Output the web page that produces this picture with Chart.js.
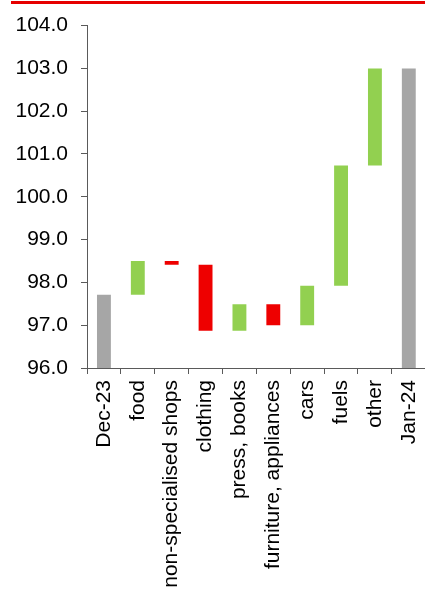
<!DOCTYPE html>
<html>
<head>
<meta charset="utf-8">
<script src="https://cdn.jsdelivr.net/npm/chart.js@4"></script>
<style>
    html, body { margin: 0; padding: 0; background: #fff; overflow: hidden; }
    #wrap { position: relative; width: 425px; height: 590px; overflow: hidden; }
    #topRule { position: absolute; left: 11px; right: 0; top: 1px; height: 3px; background: #e60000; }
    #chart { position: absolute; left: 0; top: 0; }
</style>
</head>
<body>
<div id="wrap">
    <canvas id="chart" width="440" height="590"></canvas>
    <div id="topRule"></div>
</div>
<script>
/* Waterfall: each category is a floating bar [start, end] */
const categories = [
    "Dec-23", "food", "non-specialised shops", "clothing", "press, books",
    "furniture, appliances", "cars", "fuels", "other", "Jan-24",
];
const barStart = [96.0, 97.71, 98.5, 98.41, 96.87, 97.49, 97.0, 97.92, 100.73, 96.0];
const barEnd = [97.71, 98.5, 98.41, 96.87, 97.49, 97.0, 97.92, 100.73, 103.0, 103.0];
const yTicks = [96, 97, 98, 99, 100, 101, 102, 103, 104];

const COLORS = {
    total: "#a6a6a6",
    up: "#92d050",
    down: "#ee0000",
    axis: "#5a5a5a",
    text: "#000",
};

/* Totals are grey, rises green, falls red */
const barColors = categories.map((c, i) => {
    if (i === 0 || i === categories.length - 1) return COLORS.total;
    return barEnd[i] >= barStart[i] ? COLORS.up : COLORS.down;
});

const FONT = { family: "'Liberation Sans', Arial, sans-serif", size: 21 };

new Chart(document.getElementById("chart"), {
    type: "bar",
    data: {
        labels: categories,
        datasets: [{
            data: categories.map((c, i) => [barStart[i], barEnd[i]]),
            backgroundColor: barColors,
            borderSkipped: false,
            categoryPercentage: 1,
            barPercentage: 0.41,
        }],
    },
    options: {
        responsive: false,
        animation: false,
        layout: { padding: { top: 23, left: 0, right: 0, bottom: 0 } },
        plugins: { legend: { display: false }, tooltip: { enabled: false } },
        scales: {
            x: {
                grid: { display: true, drawOnChartArea: false, drawTicks: true, tickLength: 6, color: COLORS.axis, offset: true },
                border: { display: true, color: COLORS.axis, width: 1 },
                ticks: {
                    color: COLORS.text, font: FONT, padding: 6,
                    minRotation: 90, maxRotation: 90, autoSkip: false,
                },
                afterFit: s => { s.height = 222; },
            },
            y: {
                min: 96,
                max: 104,
                afterBuildTicks: s => { s.ticks = yTicks.map(v => ({ value: v })); },
                grid: { display: true, drawOnChartArea: false, drawTicks: true, tickLength: 6, color: COLORS.axis },
                border: { display: true, color: COLORS.axis, width: 1 },
                ticks: {
                    color: COLORS.text, font: FONT, padding: 13,
                    callback: v => Number(v).toFixed(1),
                },
                afterFit: s => { s.width = 87; },
            },
        },
    },
});
</script>
</body>
</html>
